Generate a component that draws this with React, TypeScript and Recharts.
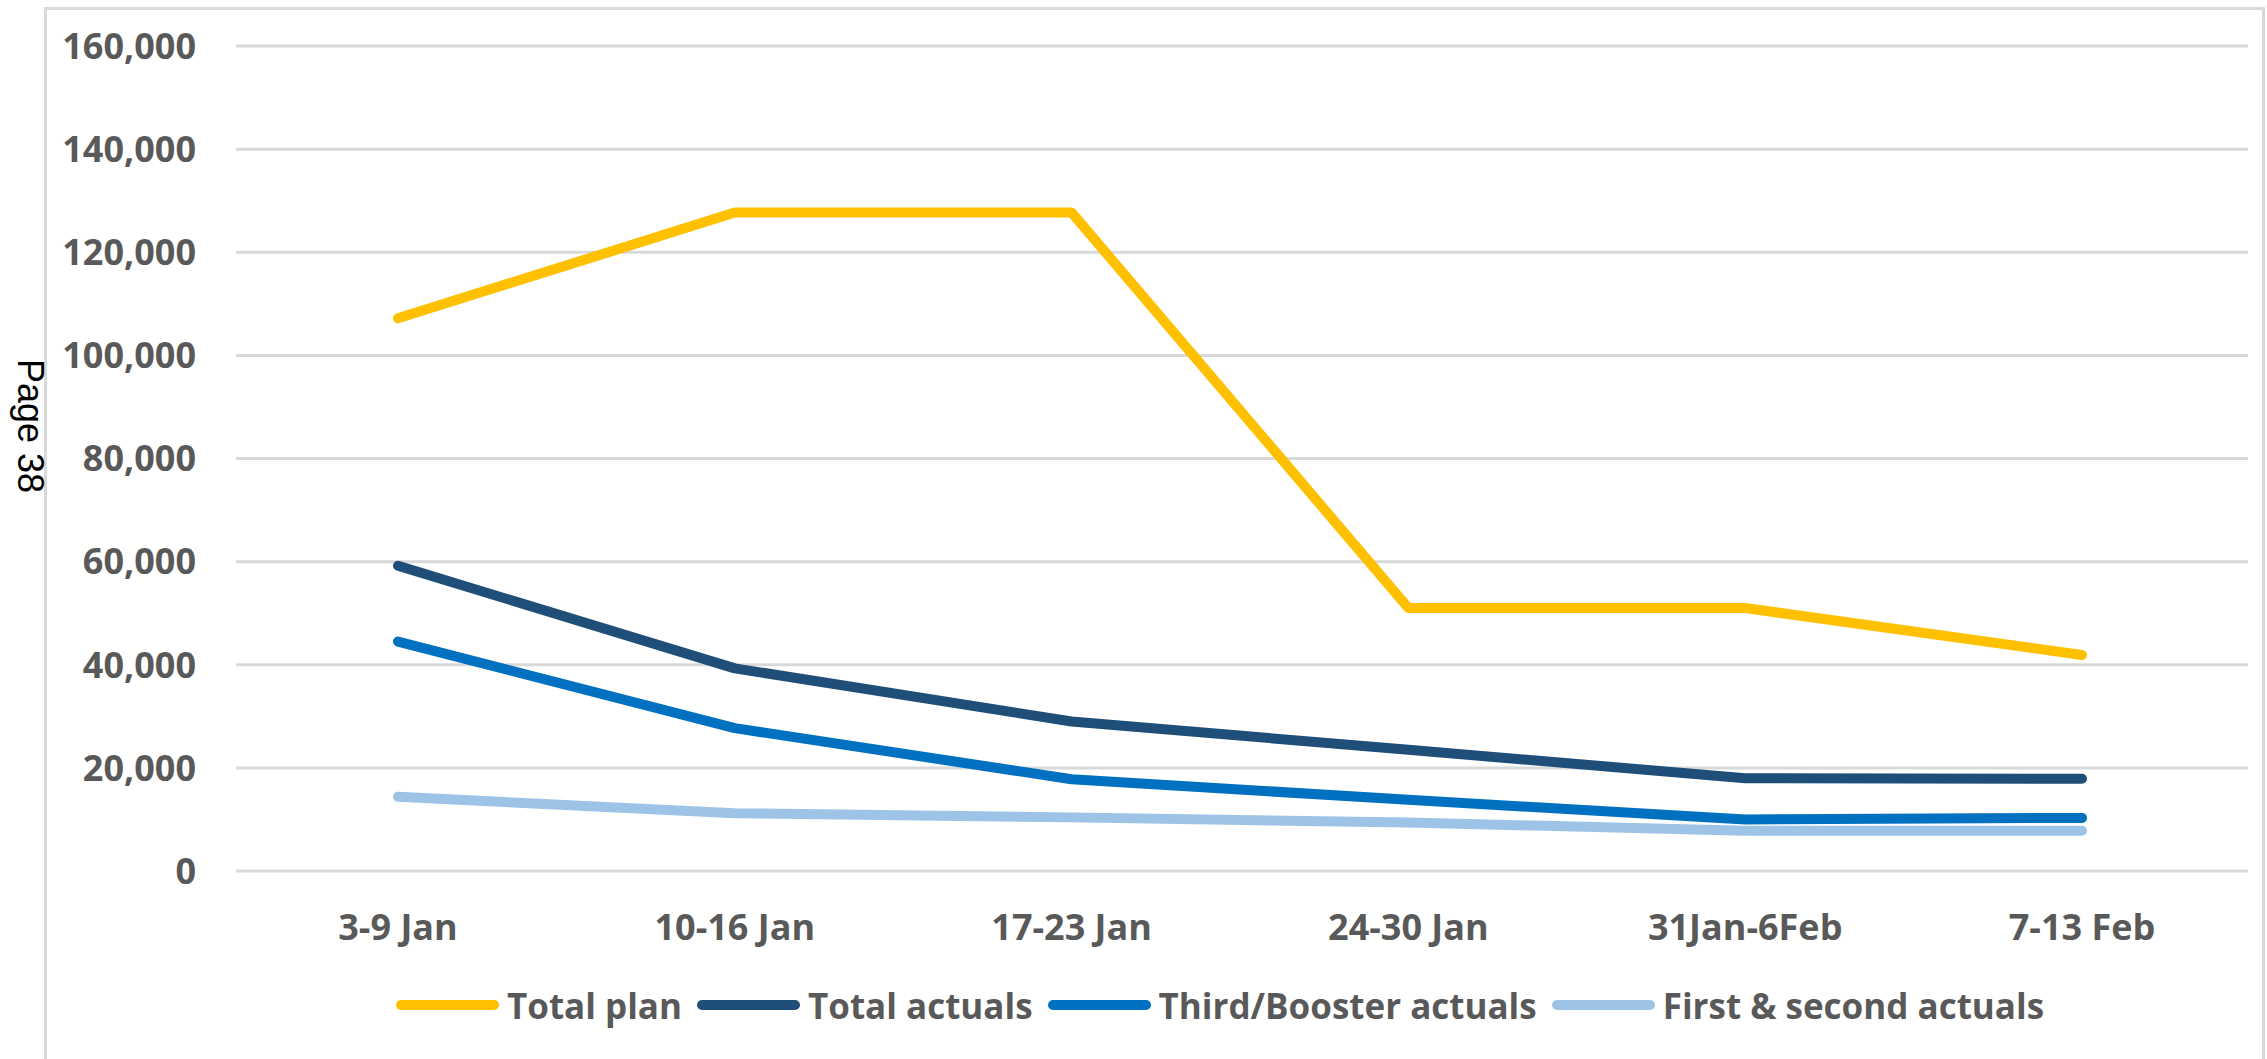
import React from "react";
import { LineChart, Line, XAxis, YAxis, CartesianGrid } from "recharts";

const weeks = ["3-9 Jan", "10-16 Jan", "17-23 Jan", "24-30 Jan", "31Jan-6Feb", "7-13 Feb"];
const totalPlan = [107200, 127700, 127700, 51000, 51000, 41900];
const totalActuals = [59200, 39300, 29000, 23500, 18000, 17900];
const boosterActuals = [44500, 27700, 17800, 13800, 10000, 10300];
const firstSecondActuals = [14400, 11200, 10400, 9400, 7800, 7800];
const yTicks = [0, 20000, 40000, 60000, 80000, 100000, 120000, 140000, 160000];

const series = [
  { key: "plan", name: "Total plan", color: "#FFC000", values: totalPlan },
  { key: "actuals", name: "Total actuals", color: "#1F4E79", values: totalActuals },
  { key: "booster", name: "Third/Booster actuals", color: "#0070C0", values: boosterActuals },
  { key: "firstSecond", name: "First & second actuals", color: "#9DC3E6", values: firstSecondActuals },
];

const data = weeks.map((week, i) => {
  const row: Record<string, string | number> = { week };
  series.forEach((s) => {
    row[s.key] = s.values[i];
  });
  return row;
});

const FONT = "'Open Sans', sans-serif";
const TEXT = "#595959";

export default function App() {
  return (
    <div style={{ position: "absolute", left: 0, top: 0, width: 2267, height: 1059, overflow: "hidden", background: "#fff" }}>
      <div
        style={{
          position: "absolute",
          left: 44,
          top: 7,
          width: 2221,
          height: 1100,
          border: "3px solid #D9D9D9",
          boxSizing: "border-box",
        }}
      />
      <div
        style={{
          position: "absolute",
          left: 30,
          top: 426,
          transform: "translate(-50%, -50%) rotate(90deg)",
          fontFamily: "'Liberation Sans', Arial, sans-serif",
          fontSize: 36,
          color: "#000",
          whiteSpace: "nowrap",
          lineHeight: 1,
        }}
      >
        Page 38
      </div>
      <div style={{ position: "absolute", left: 0, top: 0 }}>
        <LineChart width={2267} height={1059} data={data} margin={{ top: 46, right: 19, left: 36, bottom: 118 }}>
          <CartesianGrid vertical={false} stroke="#D9D9D9" strokeWidth={3} />
          <XAxis
            dataKey="week"
            axisLine={false}
            tickLine={false}
            height={70}
            tickMargin={37}
            padding={{ left: 162, right: 166 }}
            interval={0}
            tick={{ fill: TEXT, fontSize: 36, fontWeight: 700, fontFamily: FONT }}
          />
          <YAxis
            domain={[0, 160000]}
            ticks={yTicks}
            axisLine={false}
            tickLine={false}
            width={200}
            tickMargin={34}
            tickFormatter={(v: number) => v.toLocaleString("en-US")}
            tick={{ fill: TEXT, fontSize: 36, fontWeight: 700, fontFamily: FONT }}
          />
          {series.map((s) => (
            <Line
              key={s.key}
              dataKey={s.key}
              name={s.name}
              type="linear"
              stroke={s.color}
              strokeWidth={10}
              strokeLinecap="round"
              strokeLinejoin="round"
              dot={false}
              activeDot={false}
              isAnimationActive={false}
            />
          ))}
        </LineChart>
      </div>
      <div
        style={{
          position: "absolute",
          left: 220,
          width: 2000,
          top: 980,
          height: 50,
          display: "flex",
          justifyContent: "center",
          alignItems: "center",
          fontFamily: FONT,
          fontWeight: 700,
          fontSize: 35,
          color: TEXT,
        }}
      >
        {series.map((s, i) => (
          <div
            key={s.key}
            style={{ display: "flex", alignItems: "center", marginRight: i < series.length - 1 ? 15 : 0 }}
          >
            <svg width={103} height={14} style={{ marginRight: 8 }}>
              <line x1={5} y1={7} x2={98} y2={7} stroke={s.color} strokeWidth={10} strokeLinecap="round" />
            </svg>
            <span style={{ lineHeight: 1 }}>{s.name}</span>
          </div>
        ))}
      </div>
    </div>
  );
}
